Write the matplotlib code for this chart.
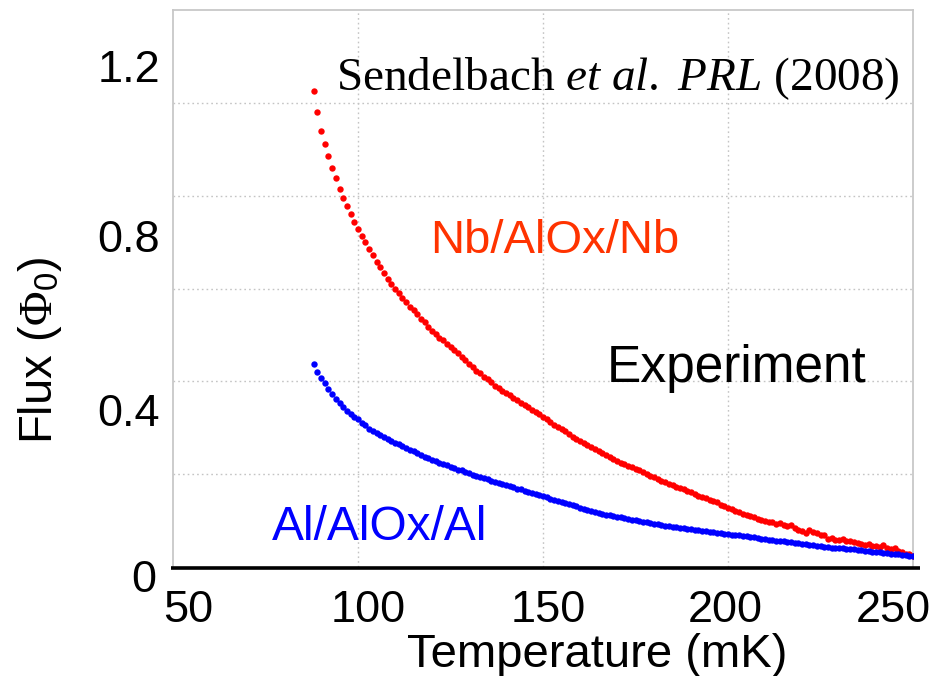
import matplotlib
matplotlib.use("Agg")
import matplotlib.pyplot as plt
from matplotlib.lines import Line2D

plt.rcParams['mathtext.fontset'] = 'custom'
plt.rcParams['mathtext.rm'] = 'Liberation Serif'
plt.rcParams['mathtext.it'] = 'Liberation Serif:italic'
plt.rcParams['mathtext.sf'] = 'Liberation Sans'

# ---------------- data ----------------
temperature_mK = [
    88, 89, 90, 91, 92, 93, 94, 95, 96, 97,
    98, 99, 100, 101, 102, 103, 104, 105, 106, 107,
    108, 109, 110, 111, 112, 113, 114, 115, 116, 117,
    118, 119, 120, 121, 122, 123, 124, 125, 126, 127,
    128, 129, 130, 131, 132, 133, 134, 135, 136, 137,
    138, 139, 140, 141, 142, 143, 144, 145, 146, 147,
    148, 149, 150, 151, 152, 153, 154, 155, 156, 157,
    158, 159, 160, 161, 162, 163, 164, 165, 166, 167,
    168, 169, 170, 171, 172, 173, 174, 175, 176, 177,
    178, 179, 180, 181, 182, 183, 184, 185, 186, 187,
    188, 189, 190, 191, 192, 193, 194, 195, 196, 197,
    198, 199, 200, 201, 202, 203, 204, 205, 206, 207,
    208, 209, 210, 211, 212, 213, 214, 215, 216, 217,
    218, 219, 220, 221, 222, 223, 224, 225, 226, 227,
    228, 229, 230, 231, 232, 233, 234, 235, 236, 237,
    238, 239, 240, 241, 242, 243, 244, 245, 246, 247,
    248, 249, 250,
]

flux_nb = [
    1.026, 0.981, 0.940, 0.911, 0.886, 0.860, 0.838, 0.815, 0.796, 0.777,
    0.760, 0.744, 0.729, 0.713, 0.700, 0.686, 0.672, 0.658, 0.646, 0.633,
    0.621, 0.610, 0.599, 0.590, 0.579, 0.571, 0.561, 0.553, 0.545, 0.535,
    0.527, 0.518, 0.509, 0.502, 0.494, 0.489, 0.481, 0.475, 0.468, 0.461,
    0.453, 0.445, 0.438, 0.430, 0.423, 0.417, 0.410, 0.404, 0.398, 0.391,
    0.386, 0.380, 0.375, 0.370, 0.364, 0.360, 0.354, 0.348, 0.344, 0.338,
    0.333, 0.329, 0.324, 0.318, 0.313, 0.307, 0.301, 0.297, 0.292, 0.286,
    0.281, 0.276, 0.271, 0.268, 0.263, 0.259, 0.254, 0.250, 0.246, 0.241,
    0.236, 0.233, 0.229, 0.225, 0.222, 0.218, 0.215, 0.212, 0.208, 0.204,
    0.200, 0.197, 0.193, 0.190, 0.186, 0.183, 0.178, 0.176, 0.173, 0.170,
    0.168, 0.164, 0.162, 0.158, 0.154, 0.151, 0.148, 0.145, 0.142, 0.139,
    0.134, 0.131, 0.128, 0.125, 0.121, 0.119, 0.115, 0.112, 0.109, 0.107,
    0.104, 0.101, 0.100, 0.097, 0.096, 0.093, 0.094, 0.090, 0.088, 0.091,
    0.084, 0.080, 0.077, 0.074, 0.079, 0.076, 0.073, 0.068, 0.070, 0.061,
    0.063, 0.059, 0.058, 0.060, 0.056, 0.055, 0.053, 0.052, 0.050, 0.048,
    0.049, 0.046, 0.045, 0.043, 0.047, 0.040, 0.038, 0.041, 0.035, 0.032,
    0.029, 0.027, 0.024,
]

flux_al = [
    0.438, 0.421, 0.408, 0.397, 0.383, 0.372, 0.362, 0.353, 0.345, 0.337,
    0.330, 0.324, 0.318, 0.311, 0.305, 0.298, 0.293, 0.289, 0.285, 0.280,
    0.276, 0.272, 0.268, 0.264, 0.260, 0.256, 0.253, 0.249, 0.245, 0.241,
    0.237, 0.234, 0.231, 0.228, 0.225, 0.222, 0.219, 0.216, 0.213, 0.210,
    0.208, 0.205, 0.202, 0.199, 0.197, 0.194, 0.191, 0.189, 0.186, 0.184,
    0.181, 0.179, 0.176, 0.174, 0.172, 0.169, 0.167, 0.164, 0.162, 0.159,
    0.157, 0.155, 0.152, 0.150, 0.147, 0.145, 0.143, 0.140, 0.138, 0.136,
    0.133, 0.131, 0.128, 0.126, 0.123, 0.121, 0.119, 0.117, 0.115, 0.113,
    0.111, 0.110, 0.108, 0.107, 0.105, 0.104, 0.102, 0.101, 0.099, 0.098,
    0.096, 0.095, 0.093, 0.092, 0.090, 0.089, 0.088, 0.087, 0.086, 0.085,
    0.084, 0.082, 0.081, 0.080, 0.079, 0.078, 0.077, 0.076, 0.075, 0.074,
    0.073, 0.072, 0.071, 0.070, 0.069, 0.068, 0.067, 0.066, 0.065, 0.064,
    0.062, 0.061, 0.060, 0.059, 0.058, 0.057, 0.056, 0.055, 0.054, 0.053,
    0.052, 0.051, 0.050, 0.049, 0.048, 0.047, 0.046, 0.045, 0.044, 0.043,
    0.042, 0.042, 0.041, 0.040, 0.039, 0.038, 0.038, 0.037, 0.036, 0.035,
    0.034, 0.033, 0.032, 0.032, 0.031, 0.030, 0.029, 0.028, 0.027, 0.026,
    0.025, 0.024, 0.023,
]

x_tick_labels = ["50", "100", "150", "200", "250"]
y_tick_labels = ["0", "0.4", "0.8", "1.2"]
x_grid = [100, 150, 200]
y_grid = [0.2, 0.4, 0.6, 0.8, 1.0]

# ---------------- figure ----------------
W, H = 941, 676
fig = plt.figure(figsize=(W / 100, H / 100), dpi=100)

def fx(px):
    return px / W

def fy(py):
    return 1 - py / H

ax = fig.add_axes([fx(173), fy(567), fx(913) - fx(173), fy(10) - fy(567)])
ax.set_xlim(50, 250)
ax.set_ylim(0, 1.2)

grid_kw = dict(color="#c4c4c4", lw=1.0, ls=(0, (1.2, 2.2)), zorder=0)
for gx in x_grid:
    ax.axvline(gx, **grid_kw)
for gy in y_grid:
    ax.axhline(gy, **grid_kw)

for side in ("left", "top", "right"):
    ax.spines[side].set_color("#c8c8c8")
    ax.spines[side].set_linewidth(1.3)
ax.spines["bottom"].set_visible(False)
ax.set_xticks([])
ax.set_yticks([])

ax.plot(temperature_mK, flux_nb, ls="none", marker="o", ms=4.6,
        mfc="#ff0000", mec="none", zorder=3)
ax.plot(temperature_mK, flux_al, ls="none", marker="o", ms=4.6,
        mfc="#0000ff", mec="none", zorder=4)

# thick black baseline
fig.add_artist(Line2D([fx(171), fx(920)], [fy(567.5), fy(567.5)],
                      color="black", lw=2.6, solid_capstyle="butt"))

sans = "Liberation Sans"
# x tick labels (placed as in the reference)
x_label_px = [188, 368, 548, 725, 893]
for lab, px in zip(x_tick_labels, x_label_px):
    fig.text(fx(px), fy(622), lab, ha="center", va="baseline",
             fontsize=32.5, family=sans)

# y tick labels
y_label_py = [581, 414, 240, 70]
y_label_right = [156, 160, 160, 160]
for lab, py, pr in zip(y_tick_labels, y_label_py, y_label_right):
    fig.text(fx(pr), fy(py), lab, ha="right", va="center",
             fontsize=32.5, family=sans)

fig.text(fx(597), fy(667), "Temperature (mK)", ha="center", va="baseline",
         fontsize=34, family=sans)
fig.text(fx(40), fy(350), r"Flux ($\Phi_{\mathsf{0}}$)", ha="center",
         va="center", rotation=90, fontsize=34, family=sans)

# annotations
fig.text(fx(336), fy(90),
         r"Sendelbach $\mathit{et\ al.\ PRL}$ (2008)",
         ha="left", va="baseline", fontsize=34, family="Liberation Serif")
fig.text(fx(555), fy(253), "Nb/AlOx/Nb", ha="center", va="baseline",
         fontsize=34, family=sans, color="#ff3300")
fig.text(fx(737), fy(382), "Experiment", ha="center", va="baseline",
         fontsize=37, family=sans, color="black")
fig.text(fx(380), fy(540), "Al/AlOx/Al", ha="center", va="baseline",
         fontsize=34.5, family=sans, color="#0000ff")

fig.savefig("out.png", dpi=100)
